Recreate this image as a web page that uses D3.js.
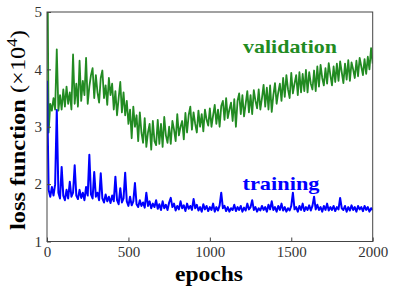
<!DOCTYPE html>
<html>
<head>
<meta charset="utf-8">
<script src="https://cdn.jsdelivr.net/npm/d3@7"></script>
<style>
  body { margin: 0; background: #fff; }
  svg { display: block; }
  text { font-family: "Liberation Serif", "DejaVu Serif", serif; }
</style>
</head>
<body>
<div id="chart"></div>
<script>
// data, one value every 10 epochs
let step = 10;
let validation = [
  7.0, 2.9, 3.4, 3.28, 3.5, 3.3, 4.35, 3.28, 3.55, 3.3,
  3.65, 3.35, 3.7, 3.4, 3.6, 3.3, 4.26, 3.4, 3.75, 3.35,
  4.15, 3.45, 3.8, 3.55, 4.2, 3.4, 3.7, 3.9, 4.02, 3.5,
  3.9, 3.6, 3.42, 3.85, 3.98, 3.5, 3.72, 3.38, 3.85, 3.55,
  3.75, 3.3, 3.62, 3.2, 3.5, 3.78, 3.25, 3.6, 3.2, 3.45,
  3.05, 3.3, 2.8, 3.35, 3.0, 3.2, 2.75, 3.25, 2.9, 2.72,
  3.15, 2.65, 2.9, 3.05, 2.6, 3.1, 2.75, 2.68, 3.12, 2.7,
  3.05, 2.65, 3.17, 2.85, 2.72, 3.0, 2.7, 3.1, 2.95, 2.75,
  3.22, 2.85, 3.0, 3.1, 2.78, 3.24, 2.9, 3.2, 3.35, 2.95,
  3.25, 3.05, 2.9, 3.28, 3.0, 3.22, 2.92, 3.3, 3.12, 3.02,
  3.32, 3.0, 3.2, 3.38, 3.05, 3.3, 3.0, 3.36, 3.45, 3.12,
  3.5, 3.15, 3.3, 3.42, 3.1, 3.48, 3.0, 3.45, 3.58, 3.22,
  3.55, 3.18, 3.4, 3.62, 3.25, 3.55, 3.22, 3.64, 3.45, 3.32,
  3.65, 3.3, 3.5, 3.73, 3.35, 3.68, 3.3, 3.72, 3.26, 3.55,
  3.76, 3.4, 3.6, 3.75, 3.45, 3.85, 3.52, 3.9, 3.65, 3.5,
  3.94, 3.58, 3.75, 3.9, 3.55, 3.95, 3.6, 3.92, 3.62, 3.99,
  3.6, 3.95, 3.75, 3.65, 3.98, 3.62, 4.05, 3.7, 4.08, 3.85,
  3.72, 4.02, 3.75, 4.11, 3.9, 3.72, 4.05, 3.78, 4.1, 3.8,
  4.14, 3.95, 3.76, 4.1, 3.82, 4.16, 3.8, 4.12, 4.0, 3.85,
  4.15, 3.88, 4.2, 4.05, 3.9, 4.18, 3.92, 4.22, 4.0, 4.37,
  4.1
];
let training = [
  3.8, 1.9, 1.78, 1.95, 1.8, 2.0, 3.29, 1.85, 1.75, 2.3,
  1.8, 1.72, 1.9, 1.75, 2.04, 1.78, 1.85, 2.33, 1.8, 1.74,
  1.9, 1.76, 1.85, 1.72, 1.95, 1.8, 2.51, 1.82, 1.75, 2.21,
  1.78, 1.85, 1.72, 2.19, 1.75, 1.68, 1.82, 1.7, 1.78, 1.67,
  1.8, 1.7, 2.13, 1.72, 1.65, 1.93, 1.68, 1.75, 2.2, 1.7,
  1.62, 1.78, 1.63, 1.7, 2.02, 1.65, 1.6, 1.72, 1.62, 1.68,
  1.59, 1.85, 1.62, 1.7, 1.58, 1.66, 1.6, 1.72, 1.57, 1.65,
  1.55, 1.7, 1.58, 1.64, 1.55, 1.68, 1.76, 1.6, 1.66, 1.54,
  1.62, 1.56, 1.7, 1.58, 1.63, 1.53, 1.66, 1.57, 1.62, 1.55,
  1.74, 1.58, 1.64, 1.54, 1.6, 1.52, 1.65, 1.56, 1.62, 1.53,
  1.6, 1.55, 1.66, 1.52, 1.6, 1.54, 1.63, 1.85, 1.58, 1.62,
  1.53, 1.6, 1.52, 1.58, 1.55, 1.64, 1.53, 1.6, 1.55, 1.62,
  1.52, 1.59, 1.54, 1.66, 1.56, 1.6, 1.72, 1.55, 1.6, 1.52,
  1.58, 1.54, 1.62, 1.55, 1.6, 1.52, 1.64, 1.56, 1.7, 1.55,
  1.6, 1.52, 1.62, 1.55, 1.66, 1.54, 1.6, 1.52, 1.58, 1.54,
  1.62, 1.85, 1.56, 1.6, 1.52, 1.62, 1.55, 1.66, 1.53, 1.6,
  1.55, 1.63, 1.54, 1.62, 1.78, 1.56, 1.64, 1.55, 1.6, 1.52,
  1.62, 1.55, 1.66, 1.54, 1.6, 1.55, 1.62, 1.53, 1.6, 1.56,
  1.76, 1.58, 1.55, 1.62, 1.52, 1.6, 1.54, 1.63, 1.55, 1.6,
  1.52, 1.62, 1.56, 1.6, 1.53, 1.62, 1.55, 1.6, 1.52, 1.58,
  1.55
];
let xTicks = [0, 500, 1000, 1500, 2000];
let yTicks = [1, 2, 3, 4, 5];

let width = 394, height = 293;
let plotLeft = 47, plotRight = 372.7, plotTop = 12, plotBottom = 241.5;

let x = d3.scaleLinear().domain([0, 2000]).range([plotLeft, plotRight]);
let y = d3.scaleLinear().domain([1, 5]).range([plotBottom, plotTop]);

let svg = d3.select("#chart").append("svg")
    .attr("width", width)
    .attr("height", height);

svg.append("clipPath").attr("id", "clip")
  .append("rect")
    .attr("x", plotLeft).attr("y", plotTop)
    .attr("width", plotRight - plotLeft).attr("height", plotBottom - plotTop);

let line = d3.line()
    .x((d, i) => x(i * step))
    .y(d => y(d));

let g = svg.append("g").attr("clip-path", "url(#clip)");
g.append("path")
    .datum(validation)
    .attr("d", line)
    .attr("fill", "none")
    .attr("stroke", "#228B22")
    .attr("stroke-width", 1.8)
    .attr("stroke-linejoin", "round");
g.append("path")
    .datum(training)
    .attr("d", line)
    .attr("fill", "none")
    .attr("stroke", "#0000ff")
    .attr("stroke-width", 2)
    .attr("stroke-linejoin", "round");

// axes, ticks inward
let xAxis = svg.append("g")
    .attr("transform", `translate(0,${plotBottom})`)
    .call(d3.axisBottom(x).tickValues(xTicks).tickFormat(d3.format("d"))
      .tickSizeInner(-4).tickSizeOuter(0).tickPadding(5));
let yAxis = svg.append("g")
    .attr("transform", `translate(${plotLeft},0)`)
    .call(d3.axisLeft(y).tickValues(yTicks).tickFormat(d3.format("d"))
      .tickSizeInner(-4).tickSizeOuter(0).tickPadding(5));

[xAxis, yAxis].forEach(a => {
  a.attr("font-family", null).attr("font-size", null);
  a.select(".domain").remove();
  a.selectAll(".tick line").attr("stroke", "#444");
  a.selectAll(".tick text")
      .attr("fill", "#333")
      .attr("font-family", "Liberation Serif")
      .attr("font-size", 15);
});

svg.append("rect")
    .attr("x", plotLeft).attr("y", plotTop)
    .attr("width", plotRight - plotLeft).attr("height", plotBottom - plotTop)
    .attr("fill", "none")
    .attr("stroke", "#444")
    .attr("stroke-width", 1);

// labels
svg.append("text")
    .attr("x", 209).attr("y", 281)
    .attr("text-anchor", "middle")
    .attr("font-weight", "bold")
    .attr("font-size", 20)
    .attr("textLength", 68)
    .attr("lengthAdjust", "spacingAndGlyphs")
    .text("epochs");

let yl = svg.append("text")
    .attr("transform", "translate(25,130) rotate(-90)")
    .attr("text-anchor", "middle")
    .attr("font-size", 20)
    .attr("textLength", 200)
    .attr("lengthAdjust", "spacingAndGlyphs");
yl.append("tspan").attr("font-weight", "bold").text("loss function");
yl.append("tspan").text(" (\u00d710");
yl.append("tspan").attr("font-size", 14).attr("dy", -8).text("4");
yl.append("tspan").attr("dy", 8).text(")");

svg.append("text")
    .attr("x", 243).attr("y", 52.5)
    .attr("font-weight", "bold")
    .attr("font-size", 19)
    .attr("fill", "#228B22")
    .attr("textLength", 94)
    .attr("lengthAdjust", "spacingAndGlyphs")
    .text("validation");

svg.append("text")
    .attr("x", 242.5).attr("y", 190)
    .attr("font-weight", "bold")
    .attr("font-size", 19)
    .attr("fill", "#0000ff")
    .attr("textLength", 77)
    .attr("lengthAdjust", "spacingAndGlyphs")
    .text("training");
</script>
</body>
</html>
